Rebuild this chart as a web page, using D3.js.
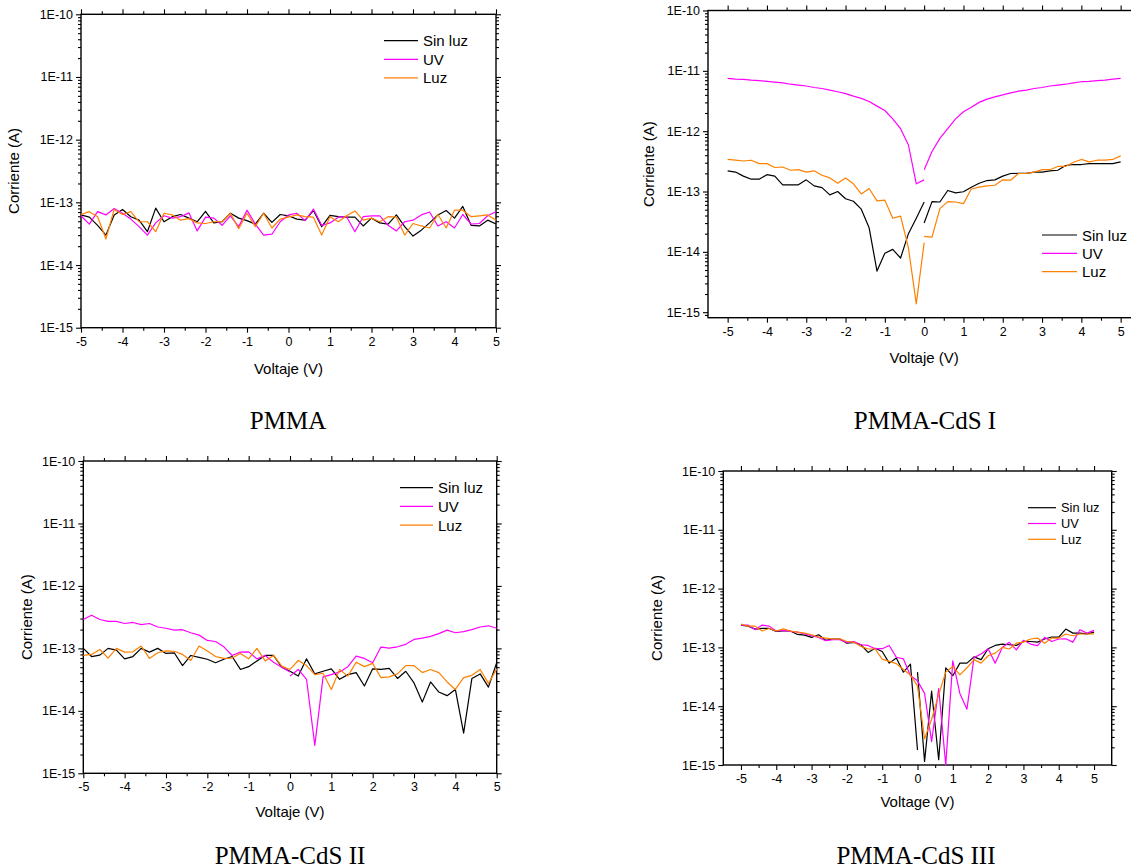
<!DOCTYPE html>
<html>
<head>
<meta charset="utf-8">
<script src="https://cdn.jsdelivr.net/npm/d3@7"></script>
<style>
  body { margin: 0; background: #fff; }
  svg { display: block; }
</style>
</head>
<body>
<svg id="chart" width="1131" height="868"></svg>
<script>
// voltage sweeps: -5 -> 0 and 0 -> 5 (each curve is measured in two branches)
const voltNeg = [-5,-4.8,-4.6,-4.4,-4.2,-4,-3.8,-3.6,-3.4,-3.2,-3,-2.8,-2.6,-2.4,-2.2,-2,-1.8,-1.6,-1.4,-1.2,-1,-0.8,-0.6,-0.4,-0.2,0]
const voltPos = [0,0.2,0.4,0.6,0.8,1,1.2,1.4,1.6,1.8,2,2.2,2.4,2.6,2.8,3,3.2,3.4,3.6,3.8,4,4.2,4.4,4.6,4.8,5]

const seriesNames = ['Sin luz', 'UV', 'Luz']
const seriesColors = ['#000000', '#ff00ff', '#ff8000']

const xTicks = [-5,-4,-3,-2,-1,0,1,2,3,4,5]
const yTicks = [1e-15,1e-14,1e-13,1e-12,1e-11,1e-10]

// currents in fA (1e-15 A): 26 values for the negative branch, then 26 for the positive one
const pmmaSinLuz = [63,58,43,30,63,77,59,52,34,81,49,59,64,56,49,72,47,49,67,56,51,45,67,48,64,61,
                    61,54,52,74,41,62,59,58,58,42,56,47,45,63,41,29,36,47,63,74,56,86,43,42,52,45]
const pmmaUV     = [61,45,71,63,80,67,54,41,30,47,61,56,59,68,35,58,56,43,61,41,75,45,30,31,49,63,
                    63,67,51,78,43,47,58,59,34,59,61,61,43,35,49,52,63,70,42,49,39,64,45,46,61,71]
const pmmaLuz    = [64,71,59,26,77,64,71,49,49,34,67,63,52,55,47,46,49,49,67,38,67,41,67,39,54,58,
                    58,63,59,58,30,59,49,61,73,52,56,49,59,58,30,46,42,39,64,39,75,75,59,61,63,52]

const cds1SinLuz = [220,210,180,160,160,190,180,129,129,129,156,124,116,88,100,76,69,51,25,4.8,9.5,11,7.9,20,36,67,
                    30,68,67,104,95,99,118,137,152,156,180,199,200,200,210,210,220,225,270,280,280,290,290,290,290,310]
const cds1UV     = [7500,7300,7200,7000,6900,6700,6500,6300,6000,5800,5600,5300,5100,4800,4500,4200,3800,3500,3100,2600,2200,1600,1100,590,134,156,
                    230,460,760,1100,1600,2100,2500,3000,3400,3700,4000,4300,4600,4800,5100,5300,5600,5800,6000,6300,6600,6700,6900,7000,7300,7500]
const cds1Luz    = [340,330,320,330,290,290,250,255,225,230,210,220,186,168,137,168,134,91,112,70,72,36,39,11.6,1.37,14.2,
                    18,17.5,52,68,67,63,110,118,124,127,156,154,199,200,210,230,230,260,260,305,340,310,330,330,340,390]

const cds2SinLuz = [100,74,78,100,94,68,74,100,87,100,83,85,53,77,72,67,59,67,74,46,51,63,77,77,50,43,
                    43,36,68,39,43,47,32,38,41,25,47,46,48,33,43,28,13.8,29,20,17.5,22,4.4,33,39,24,59]
const cds2UV     = [290,340,290,270,270,250,260,240,250,220,210,196,199,178,163,134,129,106,77,87,88,68,77,60,50,42,
                    36,46,32,2.8,35,38,42,51,75,69,59,105,101,106,116,139,146,156,172,196,178,185,200,220,230,210]
const cds2Luz    = [77,80,96,70,100,87,88,109,69,85,91,90,80,64,109,91,74,69,70,83,68,100,63,77,52,46,
                    46,64,53,38,40,22,46,36,60,51,57.5,34,35,39,53,53,41,46,41,29,22,34,37,46,27.5,47]

const cds3SinLuz = [240,230,205,210,210,187,190,190,166,162,148,164,132,139,139,118,122,111,82,97,85,54,66,38,52,1.8,
                    38,1.15,18,1.23,45,33,54,54,69,62,95,108,114,111,108,126,126,123,139,150,150,205,175,175,170,182]
const cds3UV     = [240,240,200,240,230,190,195,187,182,170,158,148,130,135,135,122,126,111,108,95,95,108,68,64,33,27,
                    27,16.5,2.5,20,1.0,59,16.5,8.9,67,77,95,54,100,122,91,132,114,107,148,126,139,140,123,200,175,195]
const cds3Luz    = [250,230,230,190,210,190,207,190,182,175,164,150,144,139,140,126,122,104,94,94,63,58,53,42,34,22,
                    22,2.8,6,15.7,38,47.5,34,45,62,54,72,80,100,94,118,123,139,144,118,144,144,169,158,169,169,170]

const FA = 1e-15

const panels = [
  { caption: 'PMMA', xTitle: 'Voltaje (V)', series: [pmmaSinLuz, pmmaUV, pmmaLuz],
    left: 81, right: 496, top: 14.3, bottom: 327.7, xDomain: [-5, 5], yDomain: [1e-15, 1e-10],
    yTitleX: 13, xTitleY: 368, legX: 384, legY: 40.7, legDy: 18.6, legLen: 34, legFont: 15, capX: 288, capY: 420 },
  { caption: 'PMMA-CdS I', xTitle: 'Voltaje (V)', series: [cds1SinLuz, cds1UV, cds1Luz],
    left: 708, right: 1140.3, top: 10.5, bottom: 317.7, xDomain: [-5.5, 5.5], yDomain: [8.1e-16, 1e-10],
    yTitleX: 648, xTitleY: 357, legX: 1042, legY: 235, legDy: 18.3, legLen: 35, legFont: 15, capX: 925, capY: 420 },
  { caption: 'PMMA-CdS II', xTitle: 'Voltaje (V)', series: [cds2SinLuz, cds2UV, cds2Luz],
    left: 83.3, right: 496.7, top: 461, bottom: 773.3, xDomain: [-5, 5], yDomain: [1e-15, 1e-10],
    yTitleX: 26, xTitleY: 811.7, legX: 400, legY: 487.7, legDy: 18.7, legLen: 33, legFont: 15, capX: 290, capY: 855 },
  { caption: 'PMMA-CdS III', xTitle: 'Voltage (V)', series: [cds3SinLuz, cds3UV, cds3Luz],
    left: 723.3, right: 1111.7, top: 471, bottom: 765, xDomain: [-5.5, 5.5], yDomain: [1e-15, 1e-10],
    yTitleX: 656.7, xTitleY: 801.7, legX: 1028, legY: 507.7, legDy: 15.8, legLen: 28, legFont: 12.8, capX: 916, capY: 855 }
]

const svg = d3.select('#chart')
const FONT = 'Liberation Sans, Arial, sans-serif'

panels.forEach(p => {
  const g = svg.append('g')
  const x = d3.scaleLinear().domain(p.xDomain).range([p.left, p.right])
  const y = d3.scaleLog().domain(p.yDomain).range([p.bottom, p.top])

  // minor ticks: 2..9 per decade, half volts
  const yMinor = []
  for (let e = -16; e < -10; e++) for (let k = 2; k < 10; k++) {
    const v = k * Math.pow(10, e)
    if (v > p.yDomain[0] && v < p.yDomain[1]) yMinor.push(v)
  }
  const xMinor = [-5.5,-4.5,-3.5,-2.5,-1.5,-0.5,0.5,1.5,2.5,3.5,4.5,5.5]
    .filter(v => v > p.xDomain[0] && v < p.xDomain[1])
  const xMajor = xTicks.filter(v => v >= p.xDomain[0] && v <= p.xDomain[1])

  const style = sel => {
    sel.select('.domain').remove()
    sel.selectAll('line').attr('stroke', '#000').attr('stroke-width', 1.1)
    sel.selectAll('text').attr('font-family', FONT).attr('font-size', 12.5).attr('fill', '#000')
  }

  g.append('g').attr('transform', `translate(0,${p.bottom})`)
    .call(d3.axisBottom(x).tickValues(xMajor).tickSize(5).tickPadding(4).tickFormat(d => String(d)))
    .call(style)
  g.append('g').attr('transform', `translate(0,${p.bottom})`)
    .call(d3.axisBottom(x).tickValues(xMinor).tickSize(3).tickFormat(''))
    .call(style)
  g.append('g').attr('transform', `translate(0,${p.top})`)
    .call(d3.axisTop(x).tickValues(xMajor).tickSize(5).tickFormat(''))
    .call(style)
  g.append('g').attr('transform', `translate(0,${p.top})`)
    .call(d3.axisTop(x).tickValues(xMinor).tickSize(3).tickFormat(''))
    .call(style)

  g.append('g').attr('transform', `translate(${p.left},0)`)
    .call(d3.axisLeft(y).tickValues(yTicks).tickSize(5).tickPadding(3)
      .tickFormat(d => '1E' + Math.round(Math.log10(d))))
    .call(style)
  g.append('g').attr('transform', `translate(${p.left},0)`)
    .call(d3.axisLeft(y).tickValues(yMinor).tickSize(3).tickFormat(''))
    .call(style)
  g.append('g').attr('transform', `translate(${p.right},0)`)
    .call(d3.axisRight(y).tickValues(yTicks).tickSize(5).tickFormat(''))
    .call(style)
  g.append('g').attr('transform', `translate(${p.right},0)`)
    .call(d3.axisRight(y).tickValues(yMinor).tickSize(3).tickFormat(''))
    .call(style)

  g.append('rect')
    .attr('x', p.left).attr('y', p.top)
    .attr('width', p.right - p.left).attr('height', p.bottom - p.top)
    .attr('fill', 'none').attr('stroke', '#000').attr('stroke-width', 1.4)

  // curves, each branch drawn separately
  const line = d3.line().x(d => x(d[0])).y(d => y(d[1] * FA))
  p.series.forEach((vals, i) => {
    const neg = voltNeg.map((v, j) => [v, vals[j]])
    const pos = voltPos.map((v, j) => [v, vals[j + voltNeg.length]])
    ;[neg, pos].forEach(branch => {
      g.append('path').datum(branch)
        .attr('d', line)
        .attr('fill', 'none')
        .attr('stroke', seriesColors[i])
        .attr('stroke-width', 1.2)
        .attr('stroke-linejoin', 'round')
    })
  })

  // legend
  seriesNames.forEach((name, i) => {
    const ly = p.legY + i * p.legDy
    g.append('line')
      .attr('x1', p.legX).attr('x2', p.legX + p.legLen)
      .attr('y1', ly).attr('y2', ly)
      .attr('stroke', seriesColors[i]).attr('stroke-width', 1.2)
    g.append('text')
      .attr('x', p.legX + p.legLen + 5).attr('y', ly)
      .attr('dominant-baseline', 'central')
      .attr('font-family', FONT).attr('font-size', p.legFont)
      .text(name)
  })

  // axis titles
  g.append('text')
    .attr('transform', `translate(${p.yTitleX},${(p.top + p.bottom) / 2}) rotate(-90)`)
    .attr('text-anchor', 'middle').attr('dominant-baseline', 'central')
    .attr('font-family', FONT).attr('font-size', 15)
    .text('Corriente (A)')
  g.append('text')
    .attr('x', (x(-5) + x(5)) / 2).attr('y', p.xTitleY)
    .attr('text-anchor', 'middle').attr('dominant-baseline', 'central')
    .attr('font-family', FONT).attr('font-size', 15)
    .text(p.xTitle)

  // caption under each plot
  g.append('text')
    .attr('x', p.capX).attr('y', p.capY)
    .attr('text-anchor', 'middle').attr('dominant-baseline', 'central')
    .attr('font-family', 'Liberation Serif, Times New Roman, serif').attr('font-size', 25)
    .text(p.caption)
})
</script>
</body>
</html>
